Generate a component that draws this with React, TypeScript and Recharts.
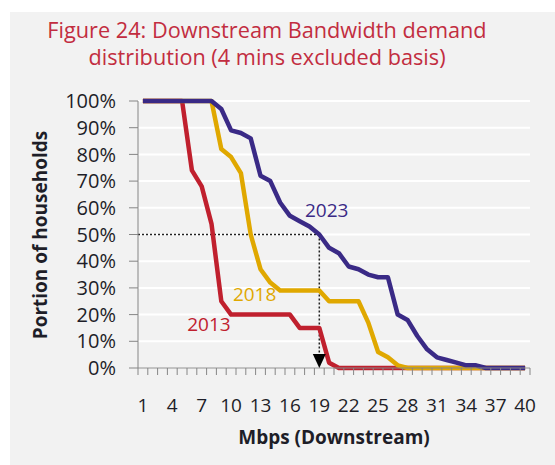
import { LineChart, Line, XAxis, YAxis, CartesianGrid, ReferenceLine, ReferenceDot } from "recharts";

// Mbps buckets (x categories)
const mbps = [
  1, 2, 3, 4, 5, 6, 7, 8, 9, 10, 11, 12, 13, 14, 15, 16, 17, 18, 19, 20,
  21, 22, 23, 24, 25, 26, 27, 28, 29, 30, 31, 32, 33, 34, 35, 36, 37, 38, 39, 40,
];
const xLabels = [1, 4, 7, 10, 13, 16, 19, 22, 25, 28, 31, 34, 37, 40];
const yTicks = [0, 10, 20, 30, 40, 50, 60, 70, 80, 90, 100];

// share of households (%) needing at least x Mbps
const share2013 = [
  100, 100, 100, 100, 100, 74, 68, 54, 25, 20, 20, 20, 20, 20, 20, 20, 15, 15, 15, 2,
  0, 0, 0, 0, 0, 0, 0, 0, 0, 0, 0, 0, 0, 0, 0, 0, 0, 0, 0, 0,
];
const share2018 = [
  100, 100, 100, 100, 100, 100, 100, 100, 82, 79, 73, 50, 37, 32, 29, 29, 29, 29, 29, 25,
  25, 25, 25, 17, 6, 4, 1, 0, 0, 0, 0, 0, 0, 0, 0, 0, 0, 0, 0, 0,
];
const share2023 = [
  100, 100, 100, 100, 100, 100, 100, 100, 97, 89, 88, 86, 72, 70, 62, 57, 55, 53, 50, 45,
  43, 38, 37, 35, 34, 34, 20, 18, 12, 7, 4, 3, 2, 1, 1, 0, 0, 0, 0, 0,
];

// median marker (19 Mbps at 50%)
const medianMbps = 19;
const medianShare = 50;

const data = mbps.map((m, i) => ({
  mbps: m,
  y2013: share2013[i],
  y2018: share2018[i],
  y2023: share2023[i],
}));

const RED = "#c0202e";
const GOLD = "#e0a800";
const BLUE = "#3a2a86";
const AXIS = "#868686";
const INK = "#1e1e28";
const FONT = "'Open Sans', sans-serif";

const W = 555;
const H = 465;
const M = { top: 101, right: 25, bottom: 0, left: 0 };
const Y_W = 138;
const X_H = 97;
const PLOT_W = W - M.left - M.right - Y_W;
const HALF = PLOT_W / mbps.length / 2;

// tick marks sit between buckets; labels sit on the bucket itself
const minorTicks = [0, ...mbps].map((m) => m + 0.5);

function MbpsTick(props: any) {
  const { x, y, payload } = props;
  const cat = payload.value + 0.5;
  if (!xLabels.includes(cat)) return <g />;
  return (
    <text x={x + HALF} y={y + 37} textAnchor="middle" fill={INK} fontSize={19} fontFamily={FONT}>
      {cat}
    </text>
  );
}

function Arrow(props: any) {
  const { cx, cy } = props;
  return <path d={`M${cx - 6.5},${cy - 14} L${cx + 6.5},${cy - 14} L${cx},${cy} Z`} fill="#000" />;
}

const seriesTags = [
  { text: "2013", x: 7.74, y: 16.3, color: RED },
  { text: "2018", x: 12.4, y: 27.5, color: GOLD },
  { text: "2023", x: 19.75, y: 59.2, color: BLUE },
];

export default function App() {
  return (
    <div style={{ position: "absolute", left: 0, top: 0, width: W, height: H, background: "#fff" }}>
      <div style={{ position: "absolute", left: 10, top: 12, width: W - 10, height: H - 12, background: "#f2f2f2" }} />
      <svg width={W} height={H} style={{ position: "absolute", left: 0, top: 0 }}>
        <g fontFamily={FONT}>
          <text x={267} y={38} textAnchor="middle" fontSize={21.7} fill="#c22d40">
            Figure 24: Downstream Bandwidth demand
          </text>
          <text x={267} y={65} textAnchor="middle" fontSize={21.7} fill="#c22d40">
            distribution (4 mins excluded basis)
          </text>
          <text x={334} y={444} textAnchor="middle" fontSize={19} fontWeight={700} fill={INK}>
            Mbps (Downstream)
          </text>
          <text transform="translate(47,235) rotate(-90)" textAnchor="middle" fontSize={19} fontWeight={700} fill={INK}>
            Portion of households
          </text>
        </g>
      </svg>
      <div style={{ position: "absolute", left: 0, top: 0 }}>
        <LineChart width={W} height={H} data={data} margin={M}>
          <CartesianGrid vertical={false} stroke="#ffffff" strokeWidth={2} />
          <XAxis
            dataKey="mbps"
            type="number"
            domain={[0.5, 40.5]}
            ticks={minorTicks}
            interval={0}
            height={X_H}
            tickSize={7}
            tickMargin={0}
            stroke={AXIS}
            tickLine={{ stroke: AXIS }}
            tick={(p: any) => <MbpsTick {...p} />}
          />
          <YAxis
            domain={[0, 100]}
            ticks={yTicks}
            interval={0}
            width={Y_W}
            tickSize={9}
            tickMargin={13}
            stroke={AXIS}
            tickFormatter={(v) => `${v}%`}
            tick={{ fill: INK, fontSize: 20, fontFamily: FONT }}
          />
          <ReferenceLine
            segment={[{ x: 0.5, y: medianShare }, { x: medianMbps, y: medianShare }]}
            stroke="#222"
            strokeWidth={1.5}
            strokeDasharray="2 2"
          />
          <ReferenceLine
            segment={[{ x: medianMbps, y: medianShare }, { x: medianMbps, y: 3 }]}
            stroke="#222"
            strokeWidth={1.5}
            strokeDasharray="2 2"
          />
          <Line dataKey="y2013" stroke={RED} strokeWidth={4.5} dot={false} isAnimationActive={false} strokeLinejoin="round" />
          <Line dataKey="y2018" stroke={GOLD} strokeWidth={4.5} dot={false} isAnimationActive={false} strokeLinejoin="round" />
          <Line dataKey="y2023" stroke={BLUE} strokeWidth={4.5} dot={false} isAnimationActive={false} strokeLinejoin="round" />
          <ReferenceDot x={medianMbps} y={0} r={0} shape={<Arrow />} />
          {seriesTags.map((t) => (
            <ReferenceDot
              key={t.text}
              x={t.x}
              y={t.y}
              r={0}
              label={{ value: t.text, position: "center", fill: t.color, fontSize: 19, fontFamily: FONT }}
            />
          ))}
        </LineChart>
      </div>
    </div>
  );
}
